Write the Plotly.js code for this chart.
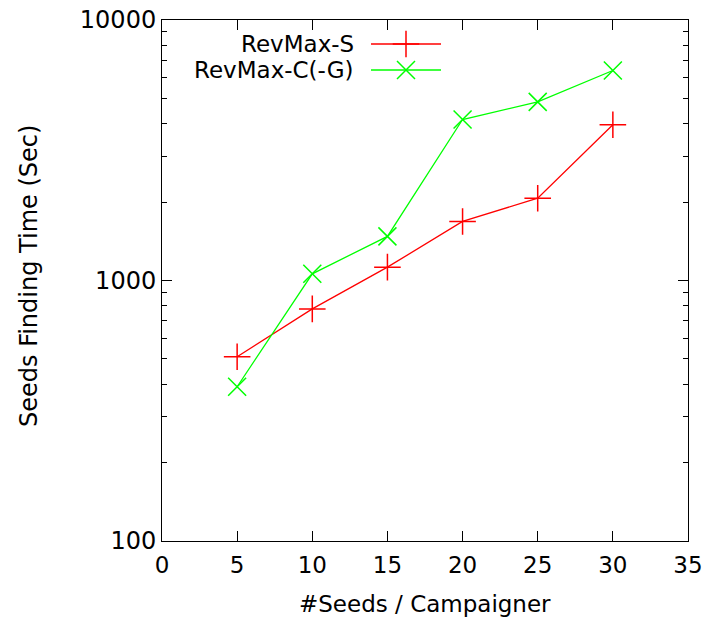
<!DOCTYPE html>
<html>
<head>
<meta charset="utf-8">
<script src="https://cdn.plot.ly/plotly-3.0.1.min.js"></script>
<style>
html,body{margin:0;padding:0;background:#fff;}
#chart{width:710px;height:624px;}
</style>
</head>
<body>
<div id="chart"></div>
<script>
// Data
const seeds = [5, 10, 15, 20, 25, 30];
const revMaxS = [510, 778, 1125, 1685, 2070, 3960];
const revMaxCG = [391, 1061, 1477, 4150, 4850, 6400];
const seriesNames = ["RevMax-S", "RevMax-C(-G)"];
const seriesColors = ["#ff0000", "#00ff00"];
const xTickVals = [0, 5, 10, 15, 20, 25, 30, 35];
const yTickVals = [100, 1000, 10000];
const yMinorVals = [200,300,400,500,600,700,800,900,2000,3000,4000,5000,6000,7000,8000,9000];

const FONT = "DejaVu Sans, sans-serif";
const FS = 23;
const TFS = 24;
const W = 710, H = 624;
const M = {l: 162, r: 22, t: 20, b: 83};

const traces = [
  {x: seeds, y: revMaxS, name: seriesNames[0], type: "scatter", mode: "lines+markers",
   line: {color: seriesColors[0], width: 1.3},
   marker: {symbol: "cross-thin", size: 19, line: {color: seriesColors[0], width: 1.5}}},
  {x: seeds, y: revMaxCG, name: seriesNames[1], type: "scatter", mode: "lines+markers",
   line: {color: seriesColors[1], width: 1.3},
   marker: {symbol: "x-thin", size: 18, line: {color: seriesColors[1], width: 1.5}}}
];

// Manual gnuplot-style legend (paper coords)
const pw = W - M.l - M.r, ph = H - M.t - M.b;
const px = v => (v - M.l) / pw;
const py = v => 1 - (v - M.t) / ph;
const legendRows = [44, 70];
const shapes = [];
const annotations = [];
seriesNames.forEach((nm, i) => {
  const y = py(legendRows[i]);
  annotations.push({xref: "paper", yref: "paper", x: px(356), y: y, text: nm, showarrow: false,
    xanchor: "right", yanchor: "middle", font: {family: FONT, size: FS, color: "#000"}});
  shapes.push({type: "line", xref: "paper", yref: "paper", x0: px(371), x1: px(441), y0: y, y1: y,
    line: {color: seriesColors[i], width: 1.3}});
});
// axis titles placed as annotations
annotations.push({xref: "paper", yref: "paper", x: px(425), y: py(604), text: "#Seeds / Campaigner",
  showarrow: false, xanchor: "center", yanchor: "middle", font: {family: FONT, size: FS, color: "#000"}});
annotations.push({xref: "paper", yref: "paper", x: px(29), y: py(276), text: "Seeds Finding Time (Sec)",
  showarrow: false, xanchor: "center", yanchor: "middle", textangle: -90, font: {family: FONT, size: TFS, color: "#000"}});

// legend markers as a separate trace on an overlay axis in pixel-like units
traces.push({x: [406], y: [legendRows[0]], xaxis: "x2", yaxis: "y2", type: "scatter", mode: "markers",
  showlegend: false, hoverinfo: "skip",
  marker: {symbol: "cross-thin", size: 19, line: {color: seriesColors[0], width: 1.5}}});
traces.push({x: [406], y: [legendRows[1]], xaxis: "x2", yaxis: "y2", type: "scatter", mode: "markers",
  showlegend: false, hoverinfo: "skip",
  marker: {symbol: "x-thin", size: 18, line: {color: seriesColors[1], width: 1.5}}});

const layout = {
  width: W, height: H,
  margin: M,
  paper_bgcolor: "#fff", plot_bgcolor: "#fff",
  showlegend: false,
  font: {family: FONT, size: FS, color: "#000"},
  xaxis: {
    range: [0, 35], tickvals: xTickVals, ticks: "inside", ticklen: 10, tickwidth: 1, tickcolor: "#000",
    showline: true, linecolor: "#000", linewidth: 1, mirror: "allticks", showgrid: false, zeroline: false,
    tickfont: {family: FONT, size: FS, color: "#000"}, automargin: false, ticklabelstandoff: 3
  },
  yaxis: {
    type: "log", range: [2, 4], tickvals: yTickVals, ticktext: ["100", "1000", "10000"],
    ticks: "inside", ticklen: 10, tickwidth: 1, tickcolor: "#000",
    minor: {tickvals: yMinorVals, ticks: "inside", ticklen: 5, tickwidth: 1, tickcolor: "#000", showgrid: false},
    showline: true, linecolor: "#000", linewidth: 1, mirror: "allticks", showgrid: false, zeroline: false,
    tickfont: {family: FONT, size: TFS, color: "#000"}, automargin: false
  },
  xaxis2: {overlaying: "x", range: [M.l, W - M.r], visible: false, fixedrange: true},
  yaxis2: {overlaying: "y", range: [H - M.b, M.t], visible: false, fixedrange: true},
  shapes: shapes,
  annotations: annotations
};

Plotly.newPlot("chart", traces, layout, {displayModeBar: false, staticPlot: true});
</script>
</body>
</html>
